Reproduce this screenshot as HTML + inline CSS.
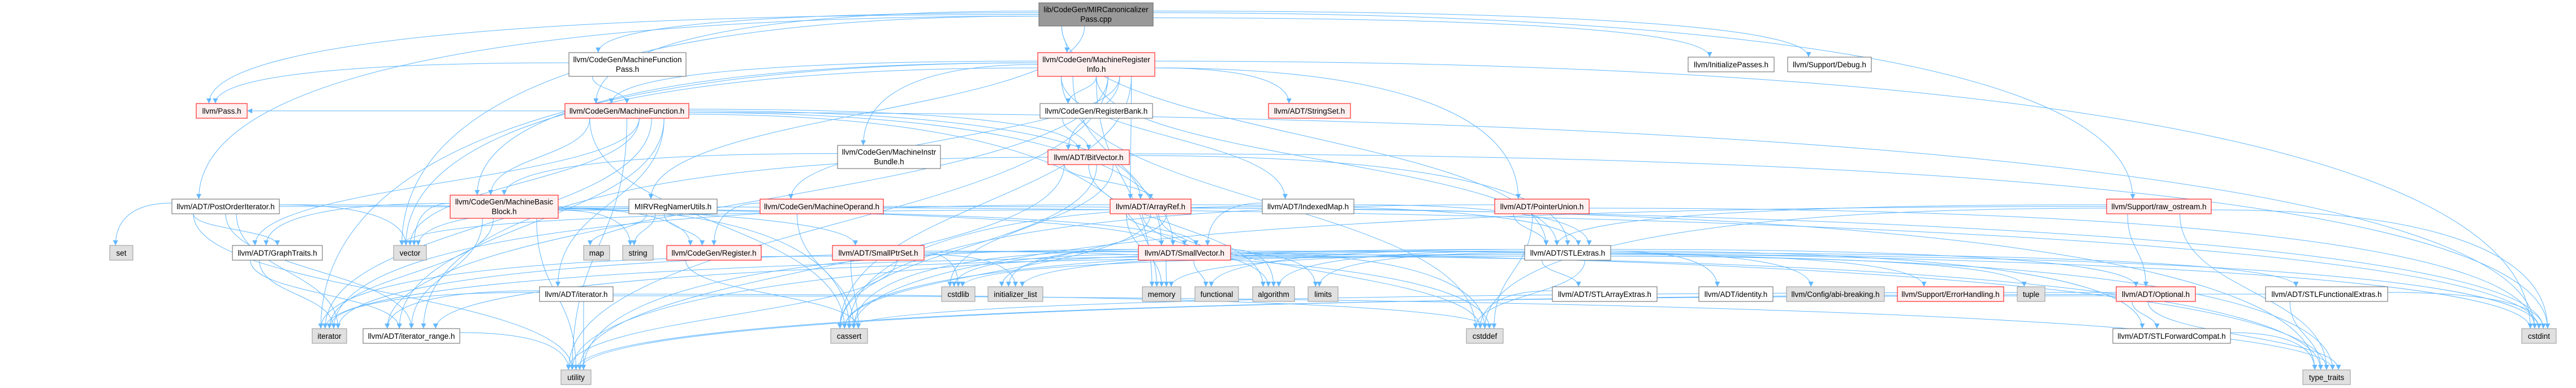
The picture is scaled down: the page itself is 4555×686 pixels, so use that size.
<!DOCTYPE html>
<html><head><meta charset="utf-8">
<style>
html,body{margin:0;padding:0;background:#fff;}
svg{display:block;}
text{font-family:"Liberation Sans",Arial,sans-serif;font-size:13.5px;fill:#000;}
</style></head>
<body>
<svg id="g" width="4555" height="686" viewBox="0 0 4555 686" xmlns="http://www.w3.org/2000/svg">
<defs>
<marker id="ah" viewBox="0 0 10 10" refX="10" refY="5" markerWidth="11" markerHeight="9" markerUnits="userSpaceOnUse" orient="auto">
<path d="M0,0 L10,5 L0,10 z" fill="#63b8ff"/>
</marker>
</defs>
<g id="edges" fill="none" stroke="#63b8ff" stroke-width="1"></g>
<g id="nodes"></g>
</svg>
<script>
var R={r1:[5,46],r2:[101,127],r2d:[93,135],r3:[183,209],r4:[265,291],r4d:[257,298],r5:[352,378],r5d:[345,386],r6:[434,460],r7:[507,533],r8:[581,607],r9:[654,680]};
var N={
top:[["lib/CodeGen/MIRCanonicalizer","Pass.cpp"],1837,2039,"r1","t"],
mri:[["llvm/CodeGen/MachineRegister","Info.h"],1835,2042,"r2d","r"],
mfp:[["llvm/CodeGen/MachineFunction","Pass.h"],1006,1213,"r2d","w"],
init:[["llvm/InitializePasses.h"],2985,3137,"r2","w"],
dbg:[["llvm/Support/Debug.h"],3161,3309,"r2","w"],
pass:[["llvm/Pass.h"],347,437,"r3","r"],
mf:[["llvm/CodeGen/MachineFunction.h"],999,1218,"r3","r"],
rb:[["llvm/CodeGen/RegisterBank.h"],1839,2038,"r3","w"],
ss:[["llvm/ADT/StringSet.h"],2243,2388,"r3","r"],
bundle:[["llvm/CodeGen/MachineInstr","Bundle.h"],1481,1663,"r4d","w"],
bv:[["llvm/ADT/BitVector.h"],1853,1997,"r4","r"],
poi:[["llvm/ADT/PostOrderIterator.h"],304,494,"r5","w"],
mbb:[["llvm/CodeGen/MachineBasic","Block.h"],796,987,"r5d","r"],
mir:[["MIRVRegNamerUtils.h"],1112,1268,"r5","w"],
mo:[["llvm/CodeGen/MachineOperand.h"],1344,1562,"r5","r"],
ar:[["llvm/ADT/ArrayRef.h"],1963,2106,"r5","r"],
im:[["llvm/ADT/IndexedMap.h"],2232,2394,"r5","w"],
pu:[["llvm/ADT/PointerUnion.h"],2643,2810,"r5","r"],
ro:[["llvm/Support/raw_ostream.h"],3725,3910,"r5","r"],
set:[["set"],194,235,"r6","g"],
gt:[["llvm/ADT/GraphTraits.h"],411,570,"r6","w"],
vec:[["vector"],696,754,"r6","g"],
map:[["map"],1032,1078,"r6","g"],
str:[["string"],1101,1155,"r6","g"],
reg:[["llvm/CodeGen/Register.h"],1179,1346,"r6","r"],
sps:[["llvm/ADT/SmallPtrSet.h"],1472,1634,"r6","r"],
sv:[["llvm/ADT/SmallVector.h"],2013,2176,"r6","r"],
stl:[["llvm/ADT/STLExtras.h"],2696,2848,"r6","w"],
it:[["llvm/ADT/iterator.h"],954,1084,"r7","w"],
cstdlib:[["cstdlib"],1665,1724,"r7","g"],
il:[["initializer_list"],1747,1844,"r7","g"],
mem:[["memory"],2020,2088,"r7","g"],
fn:[["functional"],2113,2190,"r7","g"],
alg:[["algorithm"],2215,2289,"r7","g"],
lim:[["limits"],2313,2366,"r7","g"],
sae:[["llvm/ADT/STLArrayExtras.h"],2745,2930,"r7","w"],
id:[["llvm/ADT/identity.h"],3004,3135,"r7","w"],
abi:[["llvm/Config/abi-breaking.h"],3159,3332,"r7","g"],
eh:[["llvm/Support/ErrorHandling.h"],3355,3543,"r7","r"],
tup:[["tuple"],3567,3616,"r7","g"],
opt:[["llvm/ADT/Optional.h"],3742,3882,"r7","r"],
sfe:[["llvm/ADT/STLFunctionalExtras.h"],4006,4222,"r7","w"],
iter:[["iterator"],552,613,"r8","g"],
itr:[["llvm/ADT/iterator_range.h"],642,813,"r8","w"],
cas:[["cassert"],1469,1534,"r8","g"],
cdef:[["cstddef"],2593,2658,"r8","g"],
sfc:[["llvm/ADT/STLForwardCompat.h"],3736,3944,"r8","w"],
cint:[["cstdint"],4459,4520,"r8","g"],
util:[["utility"],992,1045,"r9","g"],
tt:[["type_traits"],4072,4156,"r9","g"]
};
var E={
top:"mri mfp pass poi init dbg ro stl vec mir mf",
mri:"mf mbb bundle rb ss bv ar im sv pu stl itr mo cas cdef cint iter mem util vec",
mfp:"mf pass",
mf:"mbb bv ar sv gt iter itr cas cint mem util vec pass it",
mbb:"gt itr iter cas str vec util cint reg sv",
mir:"map str reg vec",
mo:"reg cas cint",
reg:"cas",
bundle:"mbb",
rb:"bv",
bv:"ar stl itr alg cas cint cstdlib util",
ar:"sv stl alg cas cdef il iter mem tt vec",
im:"sv stl cas",
sv:"alg cas cdef cstdlib fn il iter lim mem tt util cint",
sps:"cas cdef cstdlib il iter util tt",
pu:"stl cas cdef cint",
stl:"sae id abi eh tup opt sfc sfe iter itr cas alg cdef cint cstdlib fn il lim mem tt util",
sae:"cdef",
opt:"sfc cas tt util",
sfc:"tt",
sfe:"tt cint util",
ro:"opt stl cas cdef cint tt",
it:"itr iter cdef tt util",
itr:"util",
gt:"itr iter",
poi:"gt sps sv itr iter set vec util"
};
var NS="http://www.w3.org/2000/svg";
function el(t,a){var e=document.createElementNS(NS,t);for(var k in a)e.setAttribute(k,a[k]);return e;}
var eg=document.getElementById("edges"),ng=document.getElementById("nodes");
function box(id){var n=N[id],r=R[n[3]];return {x1:n[1],x2:n[2],y1:r[0],y2:r[1],cx:(n[1]+n[2])/2,cy:(r[0]+r[1])/2};}
var cnt={};
for(var s in E){var a=box(s);var ts=E[s].split(" ");
 ts.forEach(function(t,i){var b=box(t),d;
  var off=((i%7)-3)*((a.x2-a.x1)/10);
  var sx=Math.max(a.x1+4,Math.min(a.x2-4,a.cx+off));
  cnt[t]=(cnt[t]||0)+1;
  var toff=(((cnt[t]-1)%5)-2)*((b.x2-b.x1)/8);
  var tx=b.cx+toff;
  if(b.y1>a.y2+5){
   var sy=a.y2,ty=b.y1,dx=Math.abs(tx-a.cx),dyy=ty-sy;
   if(dx>3*dyy && (tx<a.x1||tx>a.x2)){
    var left=tx<a.cx, ssx=left?a.x1:a.x2, ssy=a.cy+((i%5)-2)*3;
    d="M"+ssx+","+ssy+" C"+(ssx+(tx-ssx)*0.6)+","+ssy+" "+tx+","+(ssy+(ty-ssy)*0.3)+" "+tx+","+ty;
   }else{
    var dy=dyy*0.5;
    d="M"+sx+","+sy+" C"+sx+","+(sy+dy)+" "+tx+","+(ty-dy)+" "+tx+","+ty;
   }
  }else{
   var left=b.cx<a.cx;
   var sx2=left?a.x1:a.x2, ex=left?b.x2:b.x1, sy2=a.cy, ey=b.cy;
   var mx=(sx2+ex)/2;
   d="M"+sx2+","+sy2+" C"+mx+","+sy2+" "+mx+","+ey+" "+ex+","+ey;
  }
  eg.appendChild(el("path",{d:d,"marker-end":"url(#ah)"}));
 });
}
for(var k in N){var n=N[k],b=box(k);
 var fill={w:"#ffffff",r:"#fff0f0",g:"#e0e0e0",t:"#999999"}[n[4]];
 var st={w:"#666666",r:"#ff0000",g:"#999999",t:"#666666"}[n[4]];
 ng.appendChild(el("rect",{x:b.x1,y:b.y1,width:b.x2-b.x1,height:b.y2-b.y1,fill:fill,stroke:st,"stroke-width":1}));
 var L=n[0];
 L.forEach(function(s,i){var y=L.length==1?b.cy+5:b.cy-4+i*17;
  var t=el("text",{x:b.cx,y:y,"text-anchor":"middle"});t.textContent=s;ng.appendChild(t);});
}
</script>
</body></html>
